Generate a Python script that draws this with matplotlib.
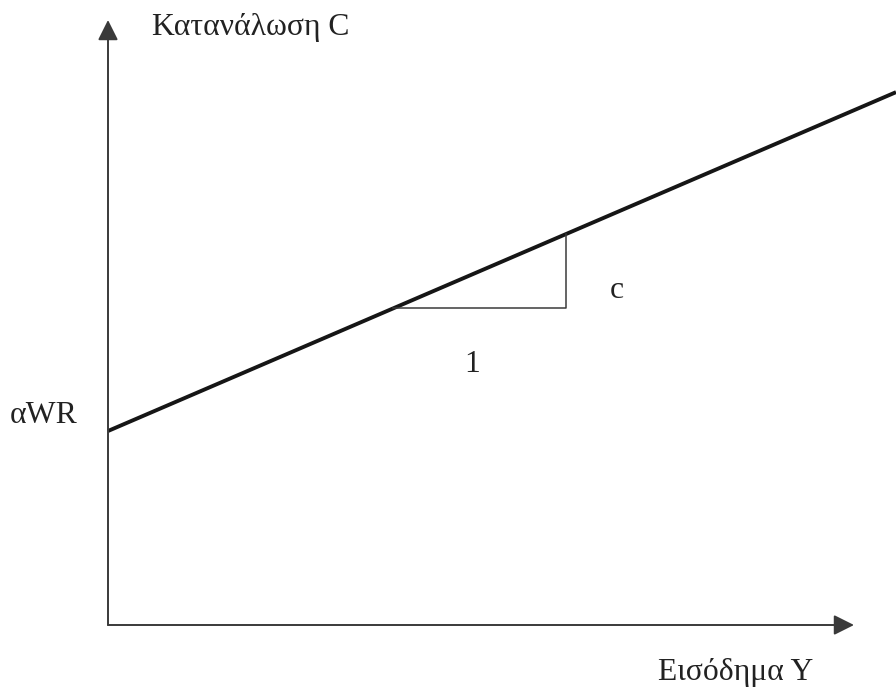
import matplotlib
matplotlib.use("Agg")
import matplotlib.pyplot as plt
import numpy as np

# Consumption function C = aWR + c * Y (units: hundreds of pixels of the drawing)
intercept_awr = 1.94          # autonomous consumption αWR
slope_c = 0.43                # marginal propensity to consume c
income_range = [0.0, 7.88]    # Y values spanned by the line
triangle_y = [2.85, 4.58]     # run of the slope triangle
x_axis_end = 7.46
y_axis_end = 6.05

labels = {
    "ylabel": "Κατανάλωση C",
    "xlabel": "Εισόδημα Y",
    "intercept": "αWR",
    "rise": "c",
    "run": "1",
}

plt.rcParams["font.family"] = ["Liberation Serif", "DejaVu Serif"]

fig = plt.figure(figsize=(8.96, 6.95), dpi=100)
ax = fig.add_axes([0, 0, 1, 1])
ax.set_xlim(-1.08, 7.88)
ax.set_ylim(-0.70, 6.25)
ax.axis("off")

axis_color = "#3a3a3a"
arrow_kw = dict(arrowstyle="-|>,head_length=0.82,head_width=0.41",
                color=axis_color, lw=1.4, shrinkA=0, shrinkB=0, mutation_scale=15)
ax.annotate("", xy=(x_axis_end, 0), xytext=(0, 0), arrowprops=arrow_kw)
ax.annotate("", xy=(0, y_axis_end), xytext=(0, 0), arrowprops=arrow_kw)

# consumption line
Y = np.array(income_range)
C = intercept_awr + slope_c * Y
ax.plot(Y, C, color="#161616", lw=2.8, solid_capstyle="butt")

# slope triangle
x0, x1 = triangle_y
c0 = intercept_awr + slope_c * x0
c1 = intercept_awr + slope_c * x1
ax.plot([x0, x1, x1], [c0, c0, c1], color="#3a3a3a", lw=1.1)

fs = 22.8
ax.text(0.44, 5.90, labels["ylabel"], fontsize=fs, ha="left", va="baseline", color="#222")
ax.text(5.50, -0.55, labels["xlabel"], fontsize=fs, ha="left", va="baseline", color="#222")
ax.text(-0.98, 2.02, labels["intercept"], fontsize=fs, ha="left", va="baseline", color="#222")
ax.text(5.02, 3.27, labels["rise"], fontsize=fs, ha="left", va="baseline", color="#222")
ax.text(3.64, 2.53, labels["run"], fontsize=fs, ha="center", va="baseline", color="#222")

fig.savefig("out.png", dpi=100, facecolor="white")
